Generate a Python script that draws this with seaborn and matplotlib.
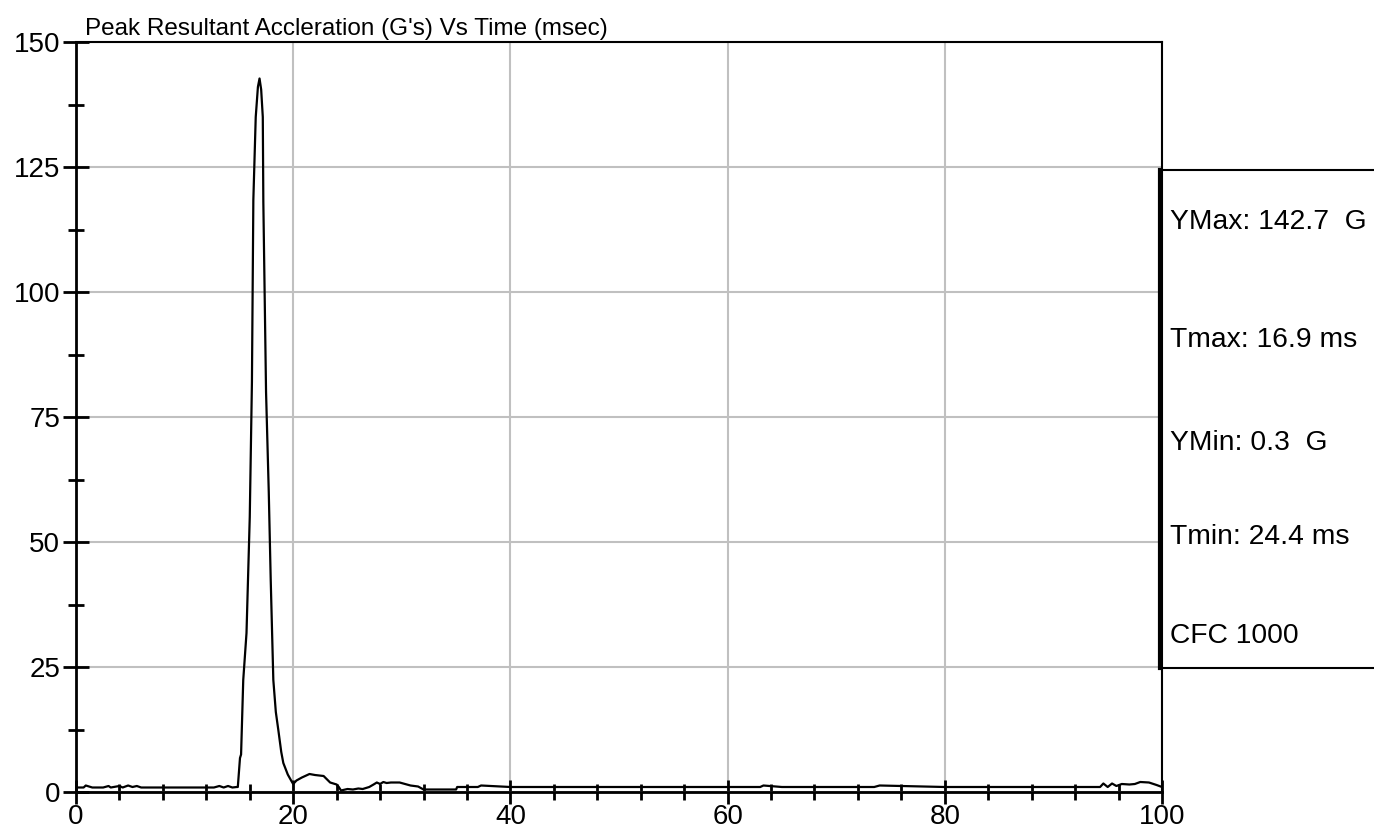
import pandas as pd
import matplotlib
matplotlib.use('Agg')
import matplotlib.pyplot as plt
import seaborn as sns
from matplotlib.ticker import MultipleLocator

# trace (time in ms, resultant accel in G)
time_ms = [0.0, 0.7, 0.9, 1.5, 2.5, 3.0, 3.2, 4.0, 4.3, 4.8, 5.2, 5.6, 6.0, 6.5,
           7.0, 8.0, 9.0, 10.0, 11.0, 12.0, 12.7, 13.2, 13.6, 14.0, 14.4, 14.8,
           14.9, 15.1, 15.2, 15.4, 15.7, 16.0, 16.2, 16.33, 16.55, 16.75, 16.9,
           17.05, 17.2, 17.25, 17.5, 17.75, 17.93, 18.17, 18.4, 18.63, 18.9,
           19.09, 19.5, 19.86, 20.0, 20.3, 20.8, 21.5, 22.0, 22.8, 23.4, 24.0,
           24.2, 24.4, 25.0, 25.5, 26.0, 26.4, 27.0, 27.4, 27.7, 28.0, 28.3, 28.6,
           29.0, 29.8, 30.8, 31.5, 32.0, 33.0, 34.0, 35.0, 35.1, 37.0, 37.3,
           40.0, 45.0, 50.0, 55.0, 60.0, 63.0, 63.3, 65.0, 70.0, 73.5, 74.0,
           80.0, 85.0, 90.0, 94.3, 94.6, 95.0, 95.4, 95.8, 96.3, 97.0, 97.5,
           98.0, 98.8, 99.5, 100.0]
accel_g = [0.9, 0.9, 1.3, 0.9, 0.9, 1.2, 0.9, 1.2, 0.9, 1.3, 1.0, 1.2, 0.9, 0.9,
           0.9, 0.9, 0.9, 0.9, 0.9, 0.9, 0.9, 1.2, 0.9, 1.2, 0.9, 1.0,
           1.0, 6.8, 7.5, 22.4, 31.8, 55.0, 82.0, 118.4, 135.0, 141.0, 142.7,
           140.5, 135.0, 118.0, 80.0, 60.0, 42.4, 22.4, 16.0, 12.4, 8.0,
           5.8, 3.5, 2.1, 1.6, 2.3, 2.9, 3.6, 3.4, 3.2, 1.9, 1.5,
           1.0, 0.3, 0.6, 0.5, 0.7, 0.6, 1.0, 1.5, 1.9, 1.6, 2.0, 1.8,
           1.9, 1.9, 1.3, 1.1, 0.5, 0.5, 0.5, 0.5, 1.0, 1.0, 1.3,
           1.0, 1.0, 1.0, 1.0, 1.0, 1.0, 1.3, 1.0, 1.0, 1.0, 1.3,
           1.0, 1.0, 1.0, 1.0, 1.7, 1.0, 1.7, 1.2, 1.6, 1.5, 1.6,
           2.0, 1.9, 1.4, 1.0]

title = "Peak Resultant Accleration (G's) Vs Time (msec)"
summary_lines = ["YMax: 142.7  G", "Tmax: 16.9 ms", "YMin: 0.3  G",
                 "Tmin: 24.4 ms", "CFC 1000"]

df = pd.DataFrame({'t': time_ms, 'g': accel_g})

sns.set_style('white')
plt.rcParams['font.family'] = ['Liberation Sans', 'DejaVu Sans']
plt.rcParams['text.color'] = 'black'
plt.rcParams['xtick.color'] = 'black'
plt.rcParams['ytick.color'] = 'black'

W, H = 1374, 839
fig = plt.figure(figsize=(W / 100, H / 100), dpi=100)
ax = fig.add_axes([76 / W, 1 - 792 / H, (1162 - 76) / W, (792 - 42) / H])

sns.lineplot(data=df, x='t', y='g', ax=ax, color='black', lw=1.6)

ax.set_xlim(0, 100)
ax.set_ylim(0, 150)
ax.xaxis.set_major_locator(MultipleLocator(20))
ax.xaxis.set_minor_locator(MultipleLocator(4))
ax.yaxis.set_major_locator(MultipleLocator(25))
ax.yaxis.set_minor_locator(MultipleLocator(12.5))
ax.grid(True, which='major', color='#c0c0c0', lw=1.5)
ax.set_axisbelow(True)
ax.set_xlabel('')
ax.set_ylabel('')

for s in ax.spines.values():
    s.set_color('black')
    s.set_linewidth(1.5)
ax.spines['left'].set_linewidth(2)
ax.spines['bottom'].set_linewidth(2)

ax.tick_params(axis='y', which='major', direction='inout', length=19, width=2,
               labelsize=20, pad=2, left=True)
ax.tick_params(axis='y', which='minor', direction='inout', length=11.5, width=2, left=True)
ax.tick_params(axis='x', which='major', direction='inout', length=17, width=2,
               labelsize=20, pad=0, bottom=True)
ax.tick_params(axis='x', which='minor', direction='inout', length=11, width=2, bottom=True)

ax.text(0.008, 1.003, title, transform=ax.transAxes, ha='left', va='bottom',
        fontsize=17.5)

# statistics box on the right
box = fig.add_axes([1160 / W, 1 - 668 / H, (W - 1160) / W, (668 - 170) / H])
box.set_xlim(0, 1)
box.set_ylim(0, 1)
box.set_xticks([])
box.set_yticks([])
box.patch.set_alpha(0)
box.spines['right'].set_visible(False)
box.spines['left'].set_linewidth(3)
box.spines['top'].set_linewidth(1.5)
box.spines['bottom'].set_linewidth(1.5)
for s in box.spines.values():
    s.set_color('black')
label_y = [222, 340, 443, 537, 636]
for txt, py in zip(summary_lines, label_y):
    box.text(0.045, (668 - py) / (668 - 170), txt, ha='left', va='center',
             fontsize=20.3)

fig.savefig('out.png', dpi=100, facecolor='white')
